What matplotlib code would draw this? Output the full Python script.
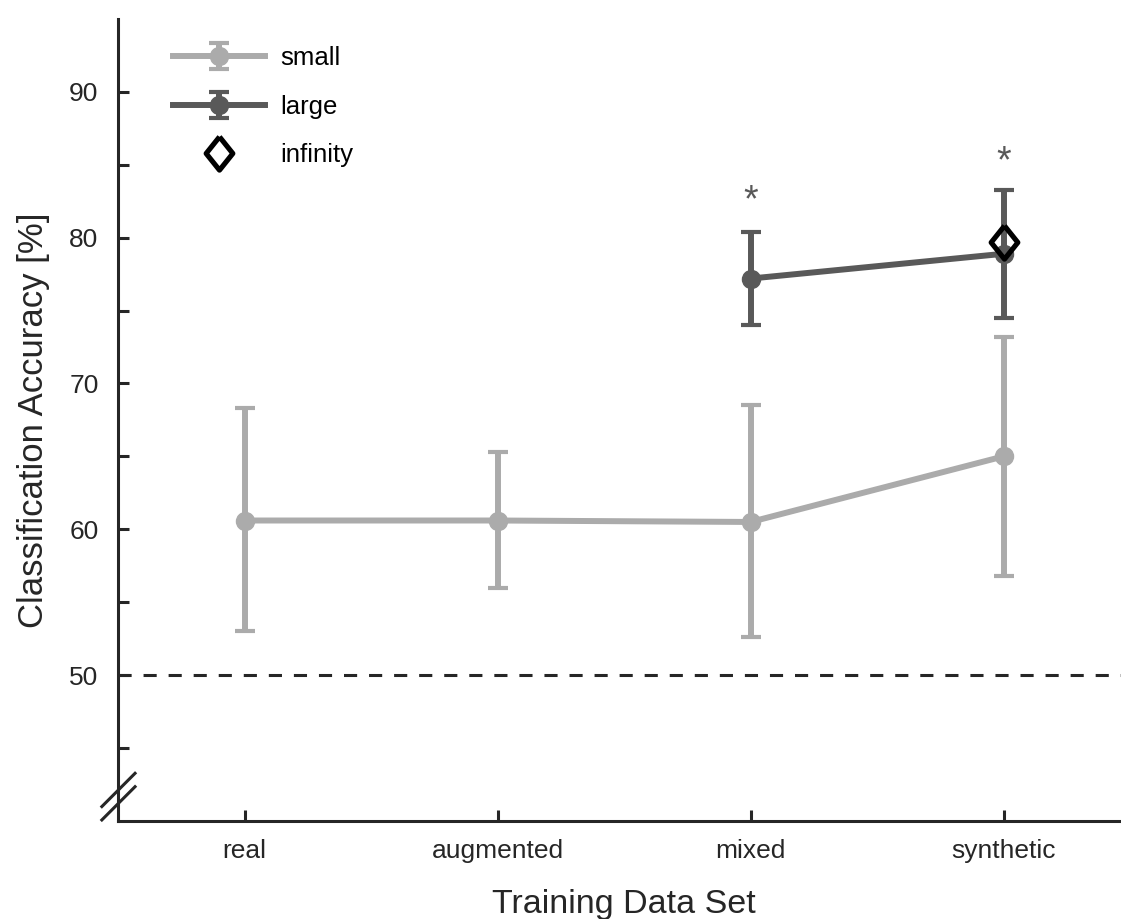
"""
Classification accuracy per training data set (small / large / infinity)
"""

import numpy as np
import matplotlib.pyplot as plt

plt.rcParams["font.family"] = ["Liberation Sans", "DejaVu Sans"]

# data
categories = ["real", "augmented", "mixed", "synthetic"]
small_mean = [60.6, 60.6, 60.5, 65.0]
small_upper = [68.3, 65.3, 68.5, 73.2]
small_lower = [53.0, 56.0, 52.6, 56.8]
large_idx = [2, 3]
large_mean = [77.2, 78.9]
large_upper = [80.4, 83.3]
large_lower = [74.0, 74.5]
inf_idx = [3]
inf_mean = [79.7]
star_idx = [2, 3]
star_y = [81.8, 84.5]
chance = 50

C_SMALL = "#ababab"
C_LARGE = "#595959"
C_AX = "#262626"

# diamond a bit wider than matplotlib's thin diamond
DIAMOND = [(0, 1), (0.8, 0), (0, -1), (-0.8, 0), (0, 1)]

fig = plt.figure(figsize=(11.21, 9.19), dpi=100)
axis = fig.add_axes([0.1053, 0.1069, 0.9028, 0.8723])

xs = np.arange(len(categories))
sm = np.array(small_mean)
lg = np.array(large_mean)

axis.axhline(chance, color=C_AX, lw=2.2, linestyle=(0, (4.3, 3.9)), zorder=1)

common = dict(
    lw=4.3, elinewidth=4.3, capsize=7.0, capthick=3.0, marker="o", markersize=13
)
h_small = axis.errorbar(
    xs,
    sm,
    yerr=[sm - np.array(small_lower), np.array(small_upper) - sm],
    color=C_SMALL,
    label="small",
    zorder=2,
    **common,
)
h_large = axis.errorbar(
    large_idx,
    lg,
    yerr=[lg - np.array(large_lower), np.array(large_upper) - lg],
    color=C_LARGE,
    label="large",
    zorder=3,
    **common,
)
(h_inf,) = axis.plot(
    inf_idx,
    inf_mean,
    linestyle="none",
    marker=DIAMOND,
    markersize=24,
    markerfacecolor="none",
    markeredgecolor="black",
    markeredgewidth=3.7,
    label="infinity",
    zorder=4,
)

for i, y in zip(star_idx, star_y):
    axis.text(i, y, "*", ha="center", va="baseline", fontsize=27, color=C_LARGE)

axis.set_xlim(-0.5, 3.5)
axis.set_ylim(40, 95)
axis.set_xticks(xs)
axis.set_xticklabels(categories)
axis.set_yticks(np.arange(45, 95, 5))
axis.set_yticklabels(
    [f"{v:d}" if v % 10 == 0 else "" for v in np.arange(45, 95, 5)]
)
axis.tick_params(
    direction="in", length=8, width=2.2, color=C_AX, labelcolor=C_AX, labelsize=19
)
axis.tick_params(axis="x", pad=13)
axis.tick_params(axis="y", pad=14)

for side in ["top", "right"]:
    axis.spines[side].set_visible(False)
for side in ["left", "bottom"]:
    axis.spines[side].set_linewidth(2.2)
    axis.spines[side].set_color(C_AX)

axis.set_xlabel("Training Data Set", fontsize=24.5, color=C_AX, labelpad=19)
axis.set_ylabel(
    "Classification Accuracy [%]", fontsize=25, color=C_AX, labelpad=14
)

# axis break marks at the bottom of the y axis
for off in [0.0, 0.0167]:
    axis.plot(
        [-0.016, 0.0168],
        [0.001 + off, 0.0425 + off],
        transform=axis.transAxes,
        color=C_AX,
        lw=2.2,
        clip_on=False,
    )

axis.legend(
    handles=[h_small, h_large, h_inf],
    loc="upper left",
    bbox_to_anchor=(0.031, 0.995),
    frameon=False,
    fontsize=18.5,
    handlelength=3.6,
    handletextpad=0.6,
    labelspacing=0.95,
)

fig.savefig("out.png", dpi=100)
